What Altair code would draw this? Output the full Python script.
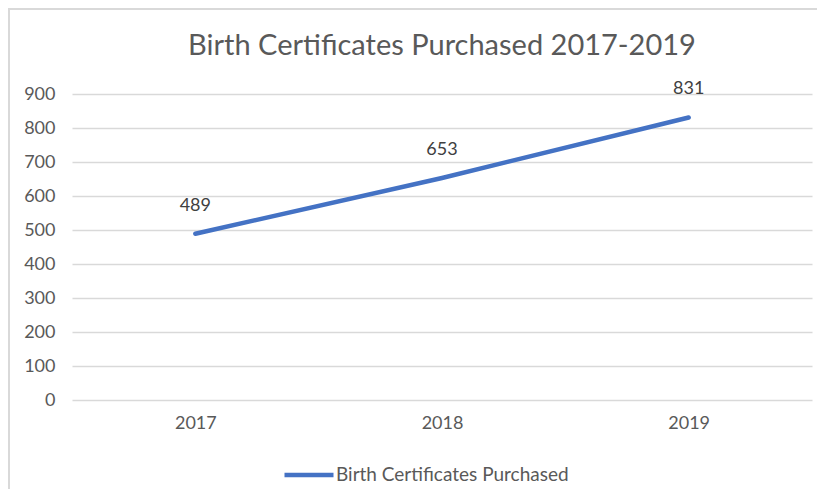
import altair as alt
import pandas as pd

years = ["2017", "2018", "2019"]
purchased = [489, 653, 831]
series_name = "Birth Certificates Purchased"
title_text = "Birth Certificates Purchased 2017-2019"
y_ticks = [0, 100, 200, 300, 400, 500, 600, 700, 800, 900]

df = pd.DataFrame({"Year": years, "Count": purchased, "Series": [series_name] * len(years)})

FONT = "Lato"
BLUE = "#4472C4"
GRID = "#D9D9D9"
TXT = "#595959"

base = alt.Chart(df).encode(
    x=alt.X("Year:N", sort=years,
            scale=alt.Scale(type="point", padding=0.5),
            axis=alt.Axis(title=None, labelAngle=0, ticks=False, grid=False, domain=False,
                          labelPadding=14, labelFontSize=18, labelColor=TXT, labelFont=FONT)),
    y=alt.Y("Count:Q", scale=alt.Scale(domain=[0, 900], nice=False),
            axis=alt.Axis(title=None, values=y_ticks, ticks=False, domain=False,
                          gridColor=GRID, gridWidth=1.5, labelPadding=17,
                          labelFontSize=18, labelColor=TXT, labelFont=FONT)),
)

line = base.mark_line(strokeWidth=4.5, strokeCap="round", strokeJoin="round").encode(
    color=alt.Color("Series:N", scale=alt.Scale(domain=[series_name], range=[BLUE]),
                    legend=alt.Legend(title=None, orient="none", legendX=210, legendY=354,
                                      symbolType="stroke", symbolSize=2401, symbolStrokeWidth=4.5,
                                      labelOffset=0, labelFontSize=19, labelColor=TXT,
                                      labelFont=FONT, padding=0, labelLimit=0))
)

labels = base.mark_text(dy=-28, fontSize=18, color="#404040", font=FONT, baseline="middle").encode(
    text=alt.Text("Count:Q")
)

border = alt.Chart(alt.Data(values=[{}])).mark_rect(
    fill=None, stroke=GRID, strokeWidth=2
).encode(x=alt.value(-63), y=alt.value(-85), x2=alt.value(800), y2=alt.value(500))

chart = alt.layer(border, line, labels).properties(
    width=740, height=306,
    title=alt.TitleParams(title_text, fontSize=29, font=FONT, color=TXT, fontWeight="normal",
                          anchor="middle", frame="group", baseline="alphabetic", offset=-76),
    autosize=alt.AutoSizeParams(type="none"),
    padding={"left": 64, "top": 86, "right": 5, "bottom": 89},
    background="white",
    view=alt.ViewBackground(stroke="transparent", strokeWidth=0),
).configure_axis(tickOpacity=0, tickSize=0)

chart.save("out.html", embed_options={"renderer": "svg", "actions": False})
